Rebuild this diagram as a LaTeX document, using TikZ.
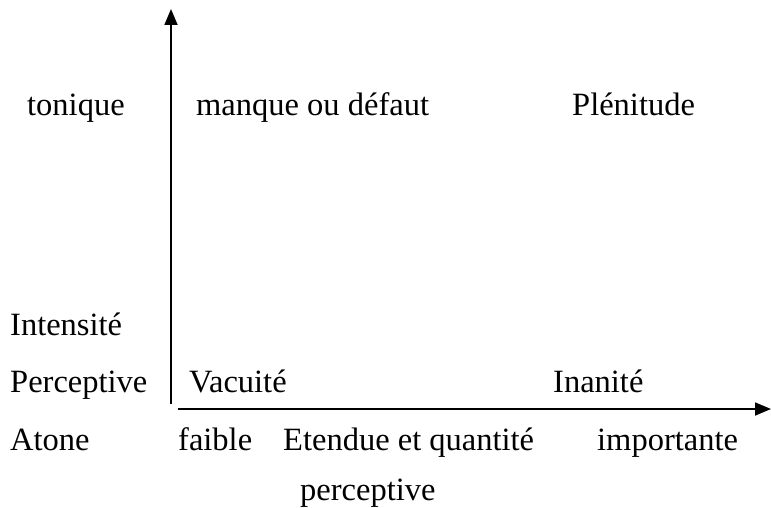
\documentclass[tikz,border=0pt]{standalone}
\usepackage{fontspec}
\setmainfont{Liberation Serif}
\usetikzlibrary{arrows.meta}
\begin{document}
\begin{tikzpicture}[x=1pt,y=-1pt,
  lbl/.style={anchor=base west,inner sep=0pt,font=\fontsize{32.5}{36}\selectfont},
  axis/.style={line width=1.8pt,-{Triangle[length=16pt,width=13pt]}}]
\useasboundingbox (0,0) rectangle (771,508);
\coordinate (vstart) at (171,404);
\coordinate (vend) at (171,9);
\coordinate (hstart) at (178,409);
\coordinate (hend) at (771,409);
\draw[axis] (vstart) -- (vend);
\draw[axis] (hstart) -- (hend);
\node[lbl] (tonique) at (27,116) {tonique};
\node[lbl] (manque) at (196,116) {manque ou défaut};
\node[lbl] (plenitude) at (572,116) {Plénitude};
\node[lbl] (intensite) at (10,335) {Intensité};
\node[lbl] (perceptiveL) at (10,392) {Perceptive};
\node[lbl] (vacuite) at (189,392) {Vacuité};
\node[lbl] (inanite) at (553,392) {Inanité};
\node[lbl] (atone) at (10,450) {Atone};
\node[lbl] (faible) at (178,450) {faible};
\node[lbl] (etendue) at (283,450) {Etendue et quantité};
\node[lbl] (importante) at (597,450) {importante};
\node[lbl] (perceptiveB) at (300,500) {perceptive};
\end{tikzpicture}
\end{document}
